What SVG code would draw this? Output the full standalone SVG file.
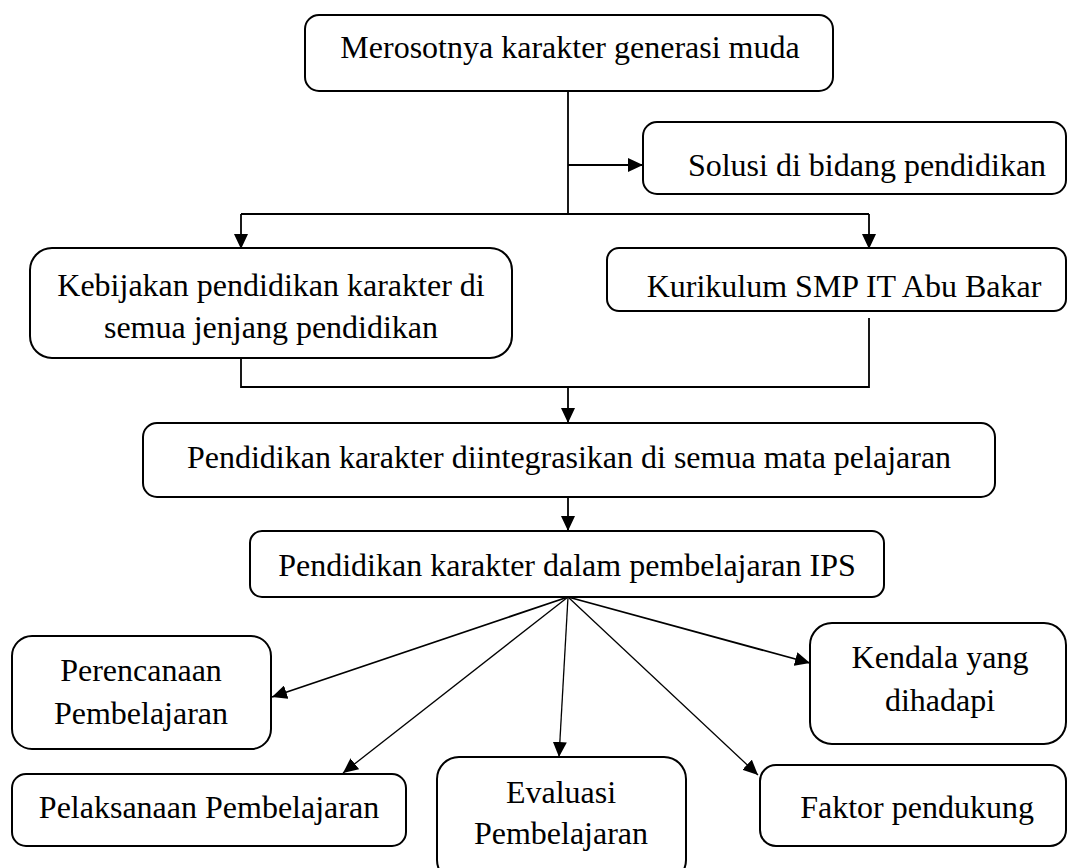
<svg xmlns="http://www.w3.org/2000/svg" width="1067" height="868" viewBox="0 0 1067 868">
<defs>
<marker id="ah" markerUnits="userSpaceOnUse" markerWidth="15" markerHeight="14" refX="15" refY="7" orient="auto">
<path d="M0,0 L15,7 L0,14 z" fill="#000"/>
</marker>
<style>
.box{fill:#fff;stroke:#000;stroke-width:2}
.t{font-family:'Liberation Serif','Times New Roman',serif;font-size:32px;fill:#000;text-anchor:middle}
.c{fill:none;stroke:#000;stroke-width:1.8}
.c2{fill:none;stroke:#000;stroke-width:1.3}
</style>
</defs>
<rect width="1067" height="868" fill="#fff"/>
<g id="connectors">
<path class="c" d="M568,91 V214"/>
<path class="c" d="M568,165 H643" marker-end="url(#ah)"/>
<path class="c" d="M241,214 H869"/>
<path class="c" d="M241,214 V249" marker-end="url(#ah)"/>
<path class="c" d="M869,214 V249" marker-end="url(#ah)"/>
<path class="c" d="M241,358 V387 H869 V318"/>
<path class="c" d="M568,387 V423" marker-end="url(#ah)"/>
<path class="c" d="M568,497 V531" marker-end="url(#ah)"/>
<path class="c" d="M568,597 L272,697" marker-end="url(#ah)"/>
<path class="c2" d="M568,597 L343,773" marker-end="url(#ah)"/>
<path class="c2" d="M568,597 L559,757" marker-end="url(#ah)"/>
<path class="c2" d="M568,597 L758,775" marker-end="url(#ah)"/>
<path class="c" d="M568,597 L810,663" marker-end="url(#ah)"/>
</g>
<g id="n1"><rect class="box" x="305" y="15" width="528" height="76" rx="14"/><text class="t" x="570" y="58">Merosotnya karakter generasi muda</text></g>
<g id="n2"><rect class="box" x="643" y="122" width="423" height="72" rx="14"/><text class="t" x="867" y="176">Solusi di bidang pendidikan</text></g>
<g id="n3"><rect class="box" x="30" y="248" width="482" height="110" rx="22"/><text class="t" x="271" y="296">Kebijakan pendidikan karakter di</text><text class="t" x="271" y="338">semua jenjang pendidikan</text></g>
<g id="n4"><rect class="box" x="607" y="248" width="459" height="63" rx="12"/><text class="t" x="844" y="297">Kurikulum SMP IT Abu Bakar</text></g>
<g id="n5"><rect class="box" x="143" y="423" width="852" height="74" rx="14"/><text class="t" x="569" y="468">Pendidikan karakter diintegrasikan di semua mata pelajaran</text></g>
<g id="n6"><rect class="box" x="250" y="531" width="634" height="66" rx="12"/><text class="t" x="567" y="576">Pendidikan karakter dalam pembelajaran IPS</text></g>
<g id="n7"><rect class="box" x="12" y="636" width="259" height="113" rx="20"/><text class="t" x="141" y="681">Perencanaan</text><text class="t" x="141" y="724">Pembelajaran</text></g>
<g id="n8"><rect class="box" x="12" y="774" width="394" height="72" rx="14"/><text class="t" x="209" y="818">Pelaksanaan Pembelajaran</text></g>
<g id="n9"><rect class="box" x="437" y="757" width="249" height="125" rx="22"/><text class="t" x="561" y="803">Evaluasi</text><text class="t" x="561" y="844">Pembelajaran</text></g>
<g id="n10"><rect class="box" x="760" y="765" width="306" height="81" rx="16"/><text class="t" x="917" y="818">Faktor pendukung</text></g>
<g id="n11"><rect class="box" x="810" y="623" width="256" height="121" rx="22"/><text class="t" x="940" y="668">Kendala yang</text><text class="t" x="940" y="711">dihadapi</text></g>
</svg>
